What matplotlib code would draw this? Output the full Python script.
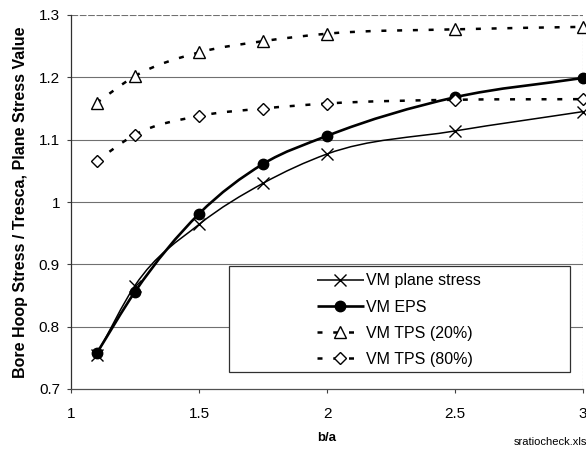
#!/usr/bin/env python3
"""Bore hoop stress ratio vs. b/a for plane stress, EPS and TPS cases."""
import numpy as np
import matplotlib
matplotlib.use('Agg')
import matplotlib.pyplot as plt
from matplotlib.path import Path
from matplotlib.patches import PathPatch, Rectangle
from matplotlib.lines import Line2D

plt.rcParams['font.family'] = ['Liberation Sans', 'DejaVu Sans']

B_OVER_A = [1.1, 1.25, 1.5, 1.75, 2.0, 2.5, 3.0]
VM_PLANE = [0.755, 0.866, 0.964, 1.030, 1.077, 1.114, 1.145]
VM_EPS   = [0.757, 0.856, 0.981, 1.061, 1.106, 1.168, 1.199]
VM_TPS20 = [1.159, 1.202, 1.240, 1.258, 1.270, 1.277, 1.281]
VM_TPS80 = [1.066, 1.108, 1.138, 1.150, 1.158, 1.164, 1.165]
LABELS   = ['VM plane stress', 'VM EPS', 'VM TPS (20%)', 'VM TPS (80%)']

Y_TICKS = [0.7, 0.8, 0.9, 1.0, 1.1, 1.2, 1.3]
X_TICKS = [1, 1.5, 2, 2.5, 3]


def smooth_path(x, y):
    """Smoothed line: cubic Hermite segments written as Bezier curves."""
    x = np.asarray(x, float)
    y = np.asarray(y, float)
    h = np.diff(x)
    d = np.diff(y) / h
    m = np.empty_like(y)
    m[0], m[-1] = d[0], d[-1]
    m[1:-1] = (h[1:] * d[:-1] + h[:-1] * d[1:]) / (h[:-1] + h[1:])
    verts = [(x[0], y[0])]
    codes = [Path.MOVETO]
    for i in range(len(x) - 1):
        verts += [(x[i] + h[i] / 3, y[i] + m[i] * h[i] / 3),
                  (x[i + 1] - h[i] / 3, y[i + 1] - m[i + 1] * h[i] / 3),
                  (x[i + 1], y[i + 1])]
        codes += [Path.CURVE4] * 3
    return Path(verts, codes)


fig = plt.figure(figsize=(5.86, 4.51), dpi=100)
ax = fig.add_axes([71 / 586, 1 - 389 / 451, 512 / 586, 374 / 451])

# horizontal gridlines
for yv in Y_TICKS[1:]:
    ax.axhline(yv, color='#707070', lw=0.8, zorder=1,
               ls=(0, (6, 1.5)) if yv == 1.3 else '-')
ax.axvline(3.0, color='#909090', lw=0.8, ls=(0, (1.5, 1.5)), zorder=1)

DASH = (0, (2, 4.3))
series = [
    (VM_PLANE, dict(lw=1.1, ls='-'),  dict(marker='x', ms=8, mfc='black', mew=1.0)),
    (VM_EPS,   dict(lw=1.9, ls='-'),  dict(marker='o', ms=7.5, mfc='black', mew=1.0)),
    (VM_TPS20, dict(lw=1.8, ls=DASH), dict(marker='^', ms=8, mfc='white', mew=1.0)),
    (VM_TPS80, dict(lw=1.8, ls=DASH), dict(marker='D', ms=6, mfc='white', mew=1.0)),
]

handles = []
for (yvals, lstyle, mstyle), lab in zip(series, LABELS):
    patch = PathPatch(smooth_path(B_OVER_A, yvals), fill=False,
                      edgecolor='black', capstyle='butt', zorder=3, **lstyle)
    ax.add_patch(patch)
    ax.plot(B_OVER_A, yvals, ls='none', color='black', mec='black',
            zorder=4, clip_on=False, **mstyle)
    handles.append(Line2D([], [], color='black', mec='black',
                          solid_capstyle='butt', dash_capstyle='butt',
                          **lstyle, **mstyle))

ax.set_xlim(1, 3)
ax.set_ylim(0.7, 1.3)
ax.set_xticks(X_TICKS)
ax.set_xticklabels(['1', '1.5', '2', '2.5', '3'])
ax.set_yticks(Y_TICKS)
ax.set_yticklabels(['0.7', '0.8', '0.9', '1', '1.1', '1.2', '1.3'])
ax.tick_params(axis='both', labelsize=11, length=3, width=0.8,
               color='#404040')
ax.tick_params(axis='x', pad=10)
ax.tick_params(axis='y', pad=5)

for side in ('top', 'right'):
    ax.spines[side].set_visible(False)
ax.spines['left'].set_color('#303030')
ax.spines['bottom'].set_color('#505050')
ax.spines['left'].set_linewidth(0.9)
ax.spines['bottom'].set_linewidth(0.9)

ax.set_ylabel('Bore Hoop Stress / Tresca, Plane Stress Value',
              fontsize=11.5, fontweight='bold', labelpad=8)
ax.set_xlabel('b/a', fontsize=9.5, fontweight='bold', labelpad=8)

# legend box plus frameless entries
ax.add_patch(Rectangle((0.3086, 0.0455), 0.666, 0.2834,
                       transform=ax.transAxes, facecolor='white',
                       edgecolor='#303030', lw=0.9, zorder=5))
leg = ax.legend(handles, LABELS, loc='upper left',
                bbox_to_anchor=(0.480, 0.309), frameon=False,
                fontsize=11.5, handlelength=2.95, handletextpad=0.15,
                labelspacing=0.7, borderpad=0, borderaxespad=0,
                numpoints=1)
leg.set_zorder(6)

fig.text(514 / 586, 1 - 442 / 451, 'sratiocheck.xls', fontsize=8,
         ha='left', va='center')

fig.savefig('out.png', dpi=100)
